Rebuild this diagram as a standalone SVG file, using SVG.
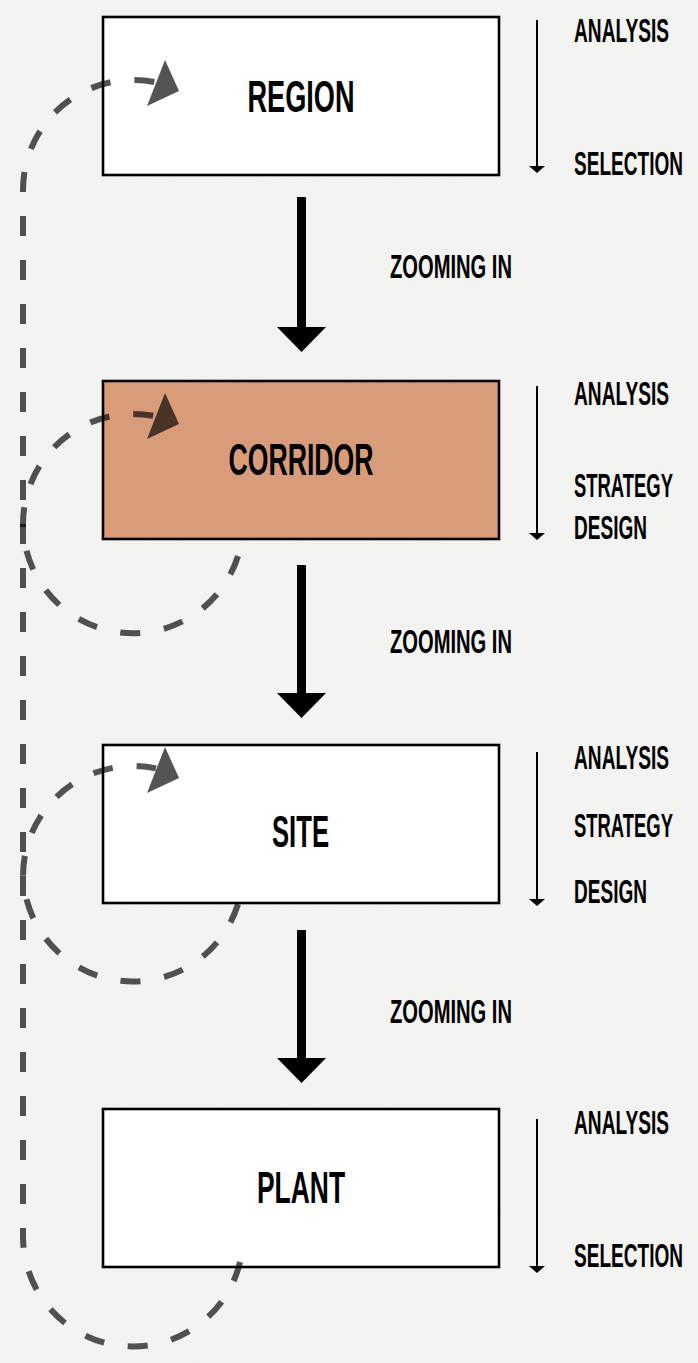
<svg xmlns="http://www.w3.org/2000/svg" width="698" height="1363" viewBox="0 0 698 1363">
  <defs>
    <style>
      .bg { fill: #f4f4f2; }
      .box { stroke: #000; stroke-width: 2.6; }
      .white { fill: #fff; }
      .orange { fill: #d99c7a; }
      .lbl { font-family: "Liberation Sans", Arial, sans-serif; font-weight: bold; fill: #000; }
      .big { font-size: 44px; text-anchor: middle; }
      .side { font-size: 34px; }
      .zoom { font-size: 33px; }
      .thin { stroke: #000; stroke-width: 2; fill: none; }
      .dash { fill: none; stroke: #000; stroke-opacity: 0.67; stroke-width: 6; stroke-dasharray: 20 24; }
      .dhead { fill: #000; fill-opacity: 0.67; }
    </style>
    <filter id="noise" x="0" y="0" width="100%" height="100%">
      <feTurbulence type="fractalNoise" baseFrequency="0.9" numOctaves="2" seed="3"/>
      <feColorMatrix type="matrix" values="0 0 0 0 0.5  0 0 0 0 0.5  0 0 0 0 0.5  0 0 0 0.05 0"/>
    </filter>
    <polygon id="thinhead" points="-8,0 8,0 0,7"/>
    <polygon id="dashhead" points="165,-22.4 179,8.6 147,23.6"/>
  </defs>

  <rect class="bg" x="0" y="0" width="698" height="1363"/>
  <rect x="0" y="0" width="698" height="1363" filter="url(#noise)"/>

  <g id="node-region">
    <rect class="box white" x="103" y="17" width="396" height="158"/>
    <text class="lbl big" transform="translate(301,111.5) scale(0.6,1)" textLength="178.3" lengthAdjust="spacingAndGlyphs">REGION</text>
  </g>
  <g id="node-corridor">
    <rect class="box orange" x="103" y="381" width="396" height="158"/>
    <text class="lbl big" transform="translate(301,475) scale(0.6,1)" textLength="241.7" lengthAdjust="spacingAndGlyphs">CORRIDOR</text>
  </g>
  <g id="node-site">
    <rect class="box white" x="103" y="745" width="396" height="158"/>
    <text class="lbl big" transform="translate(300.5,847) scale(0.6,1)" textLength="95" lengthAdjust="spacingAndGlyphs">SITE</text>
  </g>
  <g id="node-plant">
    <rect class="box white" x="103" y="1109" width="396" height="158"/>
    <text class="lbl big" transform="translate(301,1203) scale(0.6,1)" textLength="146.7" lengthAdjust="spacingAndGlyphs">PLANT</text>
  </g>

  <g id="steps-region">
    <line class="thin" x1="537" y1="20" x2="537" y2="167"/>
    <use href="#thinhead" x="537" y="166"/>
    <text class="lbl side" transform="translate(574,42) scale(0.55,1)" textLength="172.7" lengthAdjust="spacingAndGlyphs">ANALYSIS</text>
    <text class="lbl side" transform="translate(574,175) scale(0.55,1)" textLength="198.2" lengthAdjust="spacingAndGlyphs">SELECTION</text>
  </g>
  <g id="steps-corridor">
    <line class="thin" x1="537" y1="386" x2="537" y2="534"/>
    <use href="#thinhead" x="537" y="533"/>
    <text class="lbl side" transform="translate(574,405) scale(0.55,1)" textLength="172.7" lengthAdjust="spacingAndGlyphs">ANALYSIS</text>
    <text class="lbl side" transform="translate(574,497) scale(0.55,1)" textLength="180" lengthAdjust="spacingAndGlyphs">STRATEGY</text>
    <text class="lbl side" transform="translate(574,539) scale(0.55,1)" textLength="132.7" lengthAdjust="spacingAndGlyphs">DESIGN</text>
  </g>
  <g id="steps-site">
    <line class="thin" x1="537" y1="752" x2="537" y2="900"/>
    <use href="#thinhead" x="537" y="899"/>
    <text class="lbl side" transform="translate(574,769) scale(0.55,1)" textLength="172.7" lengthAdjust="spacingAndGlyphs">ANALYSIS</text>
    <text class="lbl side" transform="translate(574,837) scale(0.55,1)" textLength="180" lengthAdjust="spacingAndGlyphs">STRATEGY</text>
    <text class="lbl side" transform="translate(574,903) scale(0.55,1)" textLength="132.7" lengthAdjust="spacingAndGlyphs">DESIGN</text>
  </g>
  <g id="steps-plant">
    <line class="thin" x1="537" y1="1119" x2="537" y2="1267"/>
    <use href="#thinhead" x="537" y="1266"/>
    <text class="lbl side" transform="translate(574,1134) scale(0.55,1)" textLength="172.7" lengthAdjust="spacingAndGlyphs">ANALYSIS</text>
    <text class="lbl side" transform="translate(574,1267) scale(0.55,1)" textLength="198.2" lengthAdjust="spacingAndGlyphs">SELECTION</text>
  </g>

  <g id="connectors">
    <g id="zoom-1">
      <rect x="297" y="197" width="9" height="131"/>
      <polygon points="277,327 326,327 301.5,352"/>
      <text class="lbl zoom" transform="translate(390,278) scale(0.6,1)" textLength="203.3" lengthAdjust="spacingAndGlyphs">ZOOMING IN</text>
    </g>
    <g id="zoom-2">
      <rect x="297" y="565" width="9" height="129"/>
      <polygon points="277,693 326,693 301.5,718"/>
      <text class="lbl zoom" transform="translate(390,653) scale(0.6,1)" textLength="203.3" lengthAdjust="spacingAndGlyphs">ZOOMING IN</text>
    </g>
    <g id="zoom-3">
      <rect x="297" y="930" width="9" height="129"/>
      <polygon points="277,1058 326,1058 301.5,1083"/>
      <text class="lbl zoom" transform="translate(390,1023) scale(0.6,1)" textLength="203.3" lengthAdjust="spacingAndGlyphs">ZOOMING IN</text>
    </g>

    <g id="loop-main">
      <path class="dash" d="M 240 1262 A 110 110 0 0 1 23 1237 L 23 190 A 110 110 0 0 1 156 82.4"/>
      <use href="#dashhead" class="dhead" x="0" y="82.4"/>
    </g>
    <g id="loop-corridor">
      <path class="dash" d="M 238 556 A 110 110 0 0 1 23 524 A 110 110 0 0 1 156 416.4"/>
      <use href="#dashhead" class="dhead" x="0" y="415.4"/>
    </g>
    <g id="loop-site">
      <path class="dash" d="M 238 904 A 110 110 0 0 1 23 876 A 110 110 0 0 1 156 768.4"/>
      <use href="#dashhead" class="dhead" x="0" y="769.4"/>
    </g>
  </g>
</svg>
